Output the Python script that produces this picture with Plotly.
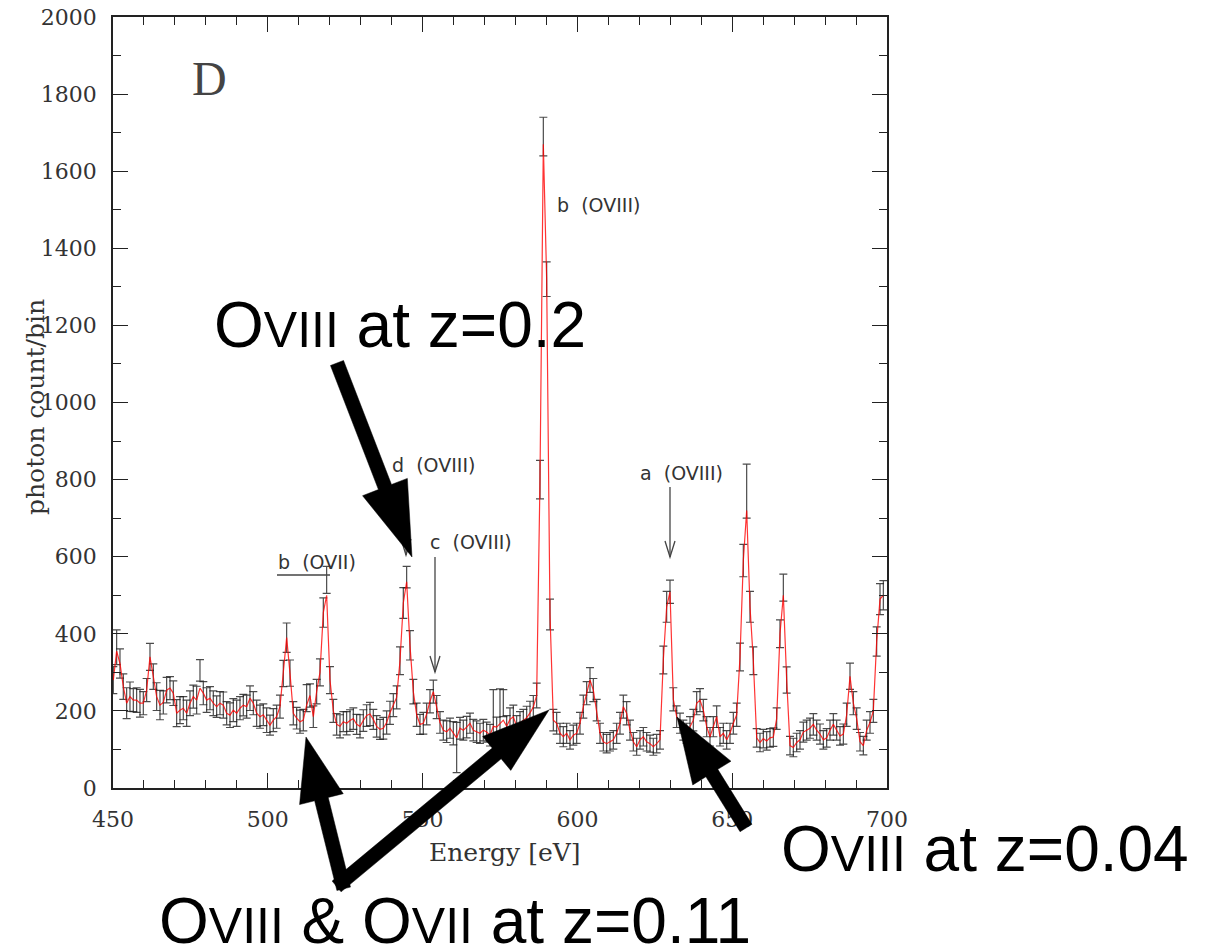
import plotly.graph_objects as go

# ---- spectrum data -------------------------------------------------------
E_START = 450.1          # centre of first bin [eV]
BIN_WIDTH = 1.0767       # bin width [eV]

# fitted model (red curve), photons per bin
model_counts = [
    280, 355, 323, 263, 220, 237, 228, 228, 220, 220,
    254, 340, 289, 237, 215, 222, 254, 259, 246, 194,
    202, 207, 194, 220, 237, 228, 259, 246, 228, 233,
    220, 211, 220, 215, 194, 189, 202, 194, 207, 215,
    211, 233, 220, 194, 185, 190, 176, 163, 176, 185,
    211, 297, 390, 298, 194, 181, 172, 176, 215, 240,
    185, 250,
    300, 455, 500, 280, 200, 165, 160, 172, 168, 175,
    180, 165, 160, 175, 188, 192, 178, 160, 152, 155,
    170, 195, 215, 235, 330, 480, 535, 370, 250, 190,
    165, 168, 192, 225, 250, 210, 170, 150, 146, 155,
    142, 130, 155, 150, 158, 168, 150, 146, 142, 150,
    145, 137, 160, 158, 168, 176, 160, 178, 185, 160,
    168, 176, 182, 195, 210, 240,
    800, 1670, 1320, 450, 176, 168, 142, 133, 142, 125,
    137, 142, 168, 211, 246, 280, 254, 202, 142, 120,
    115, 120, 125, 142, 168, 211, 194, 150, 120, 107,
    125, 133, 120, 115, 107, 115, 125, 332, 470, 509,
    230, 185, 168, 150, 142, 159, 176, 220, 228, 202,
    159, 133, 159, 185,
    133, 142, 125, 142, 168, 190, 340, 590, 720, 470,
    330, 130, 118, 128, 122, 130, 132, 180, 400, 500,
    280, 110, 105, 118, 125, 145, 150, 155, 165, 150,
    140, 125, 130, 150, 165, 150, 135, 140, 190, 290,
    220, 180, 120, 110, 150, 170, 200, 380, 490, 500,
]

# measured counts (points with error bars)
data_counts = [
    280, 365, 323, 263, 220, 237, 228, 228, 220, 220,
    254, 340, 289, 237, 215, 222, 254, 259, 246, 194,
    202, 207, 194, 220, 237, 228, 305, 246, 228, 233,
    220, 211, 220, 215, 194, 189, 202, 194, 207, 215,
    211, 233, 220, 194, 185, 190, 176, 163, 176, 185,
    211, 297, 390, 298, 194, 181, 172, 176, 233, 240,
    185, 250,
    300, 455, 540, 280, 200, 165, 160, 172, 168, 175,
    180, 165, 160, 175, 188, 192, 178, 160, 152, 155,
    170, 195, 215, 235, 330, 480, 547, 370, 250, 190,
    165, 168, 192, 225, 250, 210, 170, 150, 146, 155,
    142, 105, 155, 150, 158, 168, 150, 146, 142, 150,
    145, 137, 165, 158, 182, 220, 160, 178, 185, 160,
    168, 176, 182, 195, 210, 240,
    800, 1690, 1320, 450, 176, 168, 142, 133, 142, 125,
    137, 142, 168, 211, 246, 280, 254, 202, 142, 120,
    115, 120, 125, 142, 168, 211, 194, 150, 120, 107,
    125, 133, 120, 115, 107, 115, 125, 332, 470, 509,
    230, 185, 168, 150, 142, 159, 176, 220, 228, 202,
    159, 133, 159, 185,
    133, 142, 125, 142, 168, 190, 340, 590, 770, 470,
    330, 130, 118, 128, 122, 130, 132, 180, 400, 520,
    280, 110, 105, 118, 125, 145, 150, 155, 165, 150,
    140, 125, 130, 150, 165, 150, 135, 140, 190, 290,
    220, 180, 120, 110, 150, 170, 200, 380, 490, 500,
]

# 1-sigma uncertainties of the measured counts
count_errors = [
    35, 45, 38, 33, 40, 38, 30, 32, 36, 30,
    30, 35, 33, 36, 38, 30, 33, 30, 32, 35,
    35, 30, 34, 32, 30, 36, 28, 30, 32, 30,
    32, 28, 30, 34, 30, 32, 30, 34, 30, 28,
    30, 32, 30, 34, 30, 28, 32, 26, 30, 30,
    30, 34, 38, 34, 30, 28, 30, 28, 35, 30,
    28, 32,
    35, 38, 35, 35, 30, 28, 30, 26, 30, 28,
    28, 26, 30, 28, 28, 30, 26, 28, 26, 28,
    30, 30, 30, 30, 36, 40, 28, 38, 32, 30,
    26, 28, 28, 30, 30, 30, 28, 26, 28, 26,
    30, 65, 28, 26, 28, 26, 28, 28, 26, 28,
    26, 28, 90, 26, 75, 35, 28, 30, 30, 28,
    30, 28, 30, 30, 30, 32,
    50, 50, 45, 40, 28, 28, 26, 26, 26, 24,
    26, 26, 28, 30, 30, 32, 30, 28, 26, 24,
    24, 24, 24, 26, 28, 30, 30, 26, 24, 22,
    24, 24, 24, 22, 22, 24, 24, 36, 40, 30,
    30, 28, 26, 26, 26, 26, 28, 30, 30, 28,
    26, 24, 26, 28,
    24, 26, 24, 26, 28, 30, 36, 42, 70, 40,
    36, 24, 24, 24, 24, 24, 24, 28, 36, 35,
    34, 24, 24, 24, 24, 26, 26, 26, 28, 26,
    26, 24, 24, 26, 28, 26, 24, 26, 30, 34,
    30, 28, 24, 24, 26, 28, 30, 38, 40, 38,
]

energies = [E_START + BIN_WIDTH * k for k in range(len(model_counts))]

# line identifications
line_labels = ["b  (OVIII)", "d  (OVIII)", "c  (OVIII)", "a  (OVIII)", "b  (OVII)"]
callouts = [
    "O<span style='font-size:50px'>VIII</span> at z=0.2",
    "O<span style='font-size:50px'>VIII</span> at z=0.04",
    "O<span style='font-size:50px'>VIII</span> &amp; O<span style='font-size:50px'>VII</span> at z=0.11",
]

# ---- page geometry -------------------------------------------------------
W, H = 1207, 951
ML, MR, MT, MB = 113, 320, 17, 163
PW, PH = W - ML - MR, H - MT - MB


def px(x, y):
    """pixel position on the page -> paper coordinates"""
    return (x - ML) / PW, (H - MB - y) / PH


def arrow_path(tail, tip, shaft=14, head_w=46, head_len=70, tail_ext=0):
    import math
    dx, dy = tip[0] - tail[0], tip[1] - tail[1]
    L = math.hypot(dx, dy)
    ux, uy = dx / L, dy / L
    nx, ny = -uy, ux
    t0 = (tail[0] - ux * tail_ext, tail[1] - uy * tail_ext)
    b = (tip[0] - ux * head_len, tip[1] - uy * head_len)
    pts = [
        (t0[0] + nx * shaft / 2, t0[1] + ny * shaft / 2),
        (b[0] + nx * shaft / 2, b[1] + ny * shaft / 2),
        (b[0] + nx * head_w / 2, b[1] + ny * head_w / 2),
        tip,
        (b[0] - nx * head_w / 2, b[1] - ny * head_w / 2),
        (b[0] - nx * shaft / 2, b[1] - ny * shaft / 2),
        (t0[0] - nx * shaft / 2, t0[1] - ny * shaft / 2),
    ]
    pp = [px(*p) for p in pts]
    return "M " + " L ".join(f"{a:.5f},{c:.5f}" for a, c in pp) + " Z"


def thin_arrow(x, y0, y1, head=16, half=5):
    a = px(x, y0)
    b = px(x, y1)
    l = px(x - half, y1 - head)
    r = px(x + half, y1 - head)
    return [
        dict(type="line", xref="paper", yref="paper", x0=a[0], y0=a[1], x1=b[0], y1=b[1],
             line=dict(color="#444", width=1.3)),
        dict(type="path", xref="paper", yref="paper",
             path=f"M {l[0]:.5f},{l[1]:.5f} L {b[0]:.5f},{b[1]:.5f} L {r[0]:.5f},{r[1]:.5f}",
             line=dict(color="#444", width=1.3)),
    ]


fig = go.Figure()

fig.add_trace(go.Scatter(
    x=energies, y=data_counts, mode="markers",
    marker=dict(size=2, color="black", opacity=0),
    error_y=dict(type="data", array=count_errors, visible=True,
                 color="rgba(30,30,30,0.8)", thickness=1.2, width=4),
    showlegend=False, hoverinfo="skip",
))
fig.add_trace(go.Scatter(
    x=energies, y=model_counts, mode="lines",
    line=dict(color="rgba(255,0,0,0.8)", width=1.2),
    showlegend=False,
))

serif = "DejaVu Serif"
axis_common = dict(
    showline=True, linecolor="#222", linewidth=1.5, mirror="allticks",
    ticks="inside", ticklen=15, tickwidth=1.3, tickcolor="#222",
    showgrid=False, zeroline=False,
    tickfont=dict(family=serif, size=22, color="#333"),
)
fig.update_xaxes(range=[450, 700], tick0=450, dtick=50, ticklabelstandoff=11,
                 minor=dict(dtick=10, ticklen=8, ticks="inside", tickcolor="#222", tickwidth=1.2),
                 **axis_common)
fig.update_yaxes(range=[0, 2000], tick0=0, dtick=200, ticklabelstandoff=10,
                 minor=dict(dtick=100, ticklen=8, ticks="inside", tickcolor="#222", tickwidth=1.2),
                 **axis_common)

annotations = []


def label(text, x, y, size, family, color="#222", xanchor="left", angle=0):
    p = px(x, y)
    annotations.append(dict(
        text=text, x=p[0], y=p[1], xref="paper", yref="paper",
        xanchor=xanchor, yanchor="middle", showarrow=False, textangle=angle,
        font=dict(family=family, size=size, color=color),
    ))


# axis titles
label("photon count/bin", 35, 407, 25, serif, "#333", xanchor="center", angle=-90)
label("Energy [eV]", 505, 852, 25, serif, "#333", xanchor="center")
# panel letter
label("D", 190, 78, 48, "Liberation Serif", "#444")
# line labels
sans = "DejaVu Sans"
label(line_labels[0], 555, 205, 19, sans, "#333")
label(line_labels[1], 390, 465, 19, sans, "#333")
label(line_labels[2], 428, 542, 19, sans, "#333")
label(line_labels[3], 638, 473, 19, sans, "#333")
label(line_labels[4], 276, 562, 19, sans, "#333")
# redshift callouts
big = "Liberation Sans"
label(callouts[0], 212, 325, 64, big, "black")
label(callouts[1], 779, 849, 64, big, "black")
label(callouts[2], 157, 921, 64, big, "black")

shapes = []
shapes += thin_arrow(435, 557, 672)
shapes += thin_arrow(670, 487, 557)
shapes += thin_arrow(406, 485, 555)
u0, u1 = px(277, 575), px(330, 575)
shapes.append(dict(type="line", xref="paper", yref="paper", x0=u0[0], y0=u0[1],
                   x1=u1[0], y1=u1[1], line=dict(color="#444", width=1.3)))

# bold pointer arrows
for tail, tip, hw, hl, ext in [
    ((337, 363), (412, 557), 48, 75, 0),
    ((342, 882), (306, 737), 45, 64, 7),
    ((342, 882), (549, 710), 44, 68, 7),
    ((746, 828), (677, 717), 45, 66, 0),
]:
    shapes.append(dict(type="path", xref="paper", yref="paper",
                       path=arrow_path(tail, tip, 14, hw, hl, ext),
                       fillcolor="black", line=dict(color="black", width=0.5),
                       layer="above"))

fig.update_layout(
    width=W, height=H,
    margin=dict(l=ML, r=MR, t=MT, b=MB, autoexpand=False),
    paper_bgcolor="white", plot_bgcolor="white",
    annotations=annotations, shapes=shapes,
)

fig.write_html("out.html")
